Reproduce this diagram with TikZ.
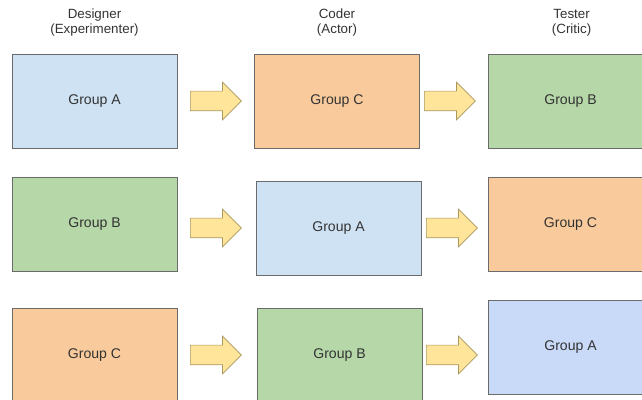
\documentclass[tikz,border=0pt]{standalone}
\usepackage{fontspec}
\setmainfont{Liberation Sans}
\usepackage{xcolor}
\usepackage{tikz}
\usetikzlibrary{shapes.arrows}

\definecolor{grpblue}{HTML}{CFE2F3}
\definecolor{grpviolet}{HTML}{C9DAF8}
\definecolor{grporange}{HTML}{F9CB9C}
\definecolor{grpgreen}{HTML}{B6D7A8}
\definecolor{passfill}{HTML}{FFE599}
\definecolor{passline}{HTML}{A8975E}
\definecolor{boxline}{HTML}{6B6B6B}
\definecolor{labeltext}{HTML}{333333}

\tikzset{
    role/.style={align=center, text=labeltext, inner sep=0pt,
        font=\fontsize{9.5}{10.7}\selectfont},
    groupbox/.style={draw=boxline, line width=0.6pt, minimum width=4.125cm,
        minimum height=2.35cm, inner sep=0pt, text=labeltext,
        font=\fontsize{10}{12}\selectfont},
    passarrow/.style={single arrow, draw=passline, fill=passfill, line width=0.5pt,
        minimum height=1.275cm, minimum width=0.925cm,
        single arrow head extend=0.225cm, inner xsep=0pt, inner ysep=0.2375cm,
        anchor=tail}
}

\begin{document}
\begin{tikzpicture}
    \useasboundingbox (0,0) rectangle (16.05,-10);
    \clip (0,0) rectangle (16.05,-10);

    % Role titles above the columns
    \foreach \x/\role/\alias [count=\i] in {2.3625/Designer/Experimenter, 8.425/Coder/Actor, 14.29/Tester/Critic} {
        \node[role] (role\i) at (\x,-0.5625) {\role\\(\alias)};
    }

    % Group boxes, one row per round
    \foreach \name/\x/\y/\grp/\fillc in {
        des1/2.3625/-2.525/A/grpblue, cod1/8.425/-2.525/C/grporange, tes1/14.2625/-2.525/B/grpgreen,
        des2/2.3625/-5.6125/B/grpgreen, cod2/8.4625/-5.7125/A/grpblue, tes2/14.2625/-5.6125/C/grporange,
        des3/2.3625/-8.875/C/grporange, cod3/8.4875/-8.875/B/grpgreen, tes3/14.2625/-8.675/A/grpviolet} {
        \node[groupbox, fill=\fillc] (\name) at (\x,\y) {Group \grp};
    }

    % Hand-over arrows between the columns
    \foreach \name/\x/\y in {
        pass1a/4.75/-2.525, pass1b/10.6/-2.525,
        pass2a/4.75/-5.7, pass2b/10.65/-5.7,
        pass3a/4.75/-8.875, pass3b/10.65/-8.875} {
        \node[passarrow] (\name) at (\x,\y) {};
    }
\end{tikzpicture}
\end{document}
